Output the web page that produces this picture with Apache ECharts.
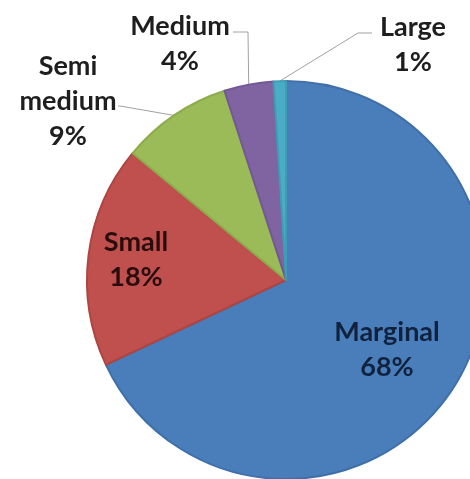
<!DOCTYPE html>
<html>
<head>
<meta charset="utf-8">
<script src="https://cdn.jsdelivr.net/npm/echarts@6/dist/echarts.min.js"></script>
<style>
html,body{margin:0;padding:0;background:#fff;}
#chart{width:470px;height:479px;}
</style>
</head>
<body>
<div id="chart"></div>
<script>
// Data
var categories = ['Marginal', 'Small', 'Semi medium', 'Medium', 'Large'];
var shares = [68, 18, 9, 4, 1];

// Styles (kept apart from the data)
var fills = ['#4a7ebb', '#c0504d', '#9bbb59', '#8064a2', '#4bacc6'];
var rims = ['#3f70aa', '#ad4542', '#8cab4c', '#725894', '#3f9cb5'];
var textColors = ['#10223d', '#2a0c0c', '#1e1e1e', '#1e1e1e', '#1e1e1e'];
var insideLabel = [true, true, false, false, false];
var labelCenters = [[387, 350], [136, 260], [68, 101], [180, 44], [413, 45]];
var lineEnds = [null, null, [[120, 106], [118, 106]], [[248, 32], [233, 32]], [[358, 33], [372, 33]]];

var chart = echarts.init(document.getElementById('chart'), null, {renderer: 'canvas'});

var seriesData = categories.map(function (name, i) {
  return {
    name: name,
    value: shares[i],
    itemStyle: {color: fills[i], borderColor: rims[i]},
    label: {color: textColors[i]},
    labelLine: {show: !insideLabel[i]}
  };
});

chart.setOption({
  animation: false,
  series: [{
    type: 'pie',
    center: [286, 280],
    radius: 199,
    startAngle: 90,
    clockwise: true,
    avoidLabelOverlap: false,
    itemStyle: {borderWidth: 2},
    label: {
      show: true,
      position: 'outside',
      fontFamily: 'Lato',
      fontWeight: 'bold',
      fontSize: 27,
      lineHeight: 35,
      align: 'center',
      formatter: function (p) {
        return p.name.replace(' ', '\n') + '\n' + Math.round(p.percent) + '%';
      }
    },
    labelLine: {
      show: true,
      lineStyle: {color: '#a0a0a0', width: 1}
    },
    labelLayout: function (params) {
      var i = params.dataIndex;
      var res = {
        x: labelCenters[i][0],
        y: labelCenters[i][1],
        align: 'center',
        verticalAlign: 'middle'
      };
      if (lineEnds[i] && params.labelLinePoints) {
        res.labelLinePoints = [params.labelLinePoints[0]].concat(lineEnds[i]);
      }
      return res;
    },
    data: seriesData
  }]
});
</script>
</body>
</html>
